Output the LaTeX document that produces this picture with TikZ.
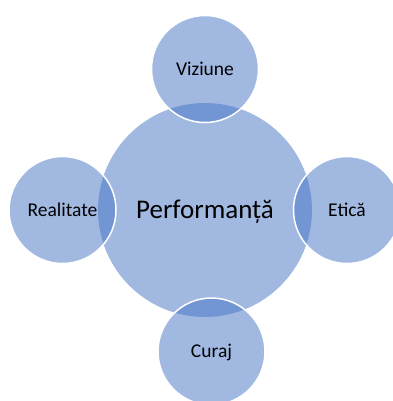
\documentclass[tikz,border=0pt]{standalone}
\usepackage{fontspec}
\setmainfont{Carlito}
\usetikzlibrary{positioning}
\definecolor{vennblue}{HTML}{4472C4}

\begin{document}
\begin{tikzpicture}[x=1bp,y=-1bp,
  core/.style={circle,inner sep=0pt,minimum size=214bp,fill=vennblue,fill opacity=0.5,text opacity=1,
    font=\fontsize{27bp}{32bp}\selectfont,text height=17.4bp,text depth=0pt},
  petal/.style={circle,inner sep=0pt,minimum size=107bp,fill=vennblue,fill opacity=0.5,text opacity=1,
    draw=white,line width=1.5bp,font=\fontsize{19.5bp}{23bp}\selectfont,text height=12.5bp,text depth=0pt}]

\clip (0,0) rectangle (393,401);

\coordinate (M) at (205,210);
\node[core] (perf) at (M) {Performanță};

\node[petal] (viz) at (205,69) {Viziune};
\node[petal] (real) at (62.5,210) {Realitate};
\node[petal] (etic) at (347,210) {Etică};
\node[petal] (cur) at (211.5,351.5) {Curaj};

\end{tikzpicture}
\end{document}
